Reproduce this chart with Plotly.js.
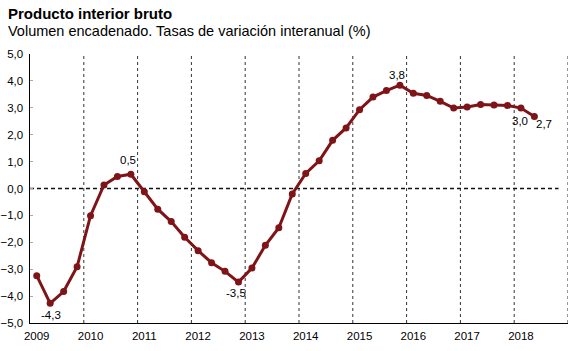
<!DOCTYPE html>
<html>
<head>
<meta charset="utf-8">
<script src="https://cdn.plot.ly/plotly-3.0.1.min.js"></script>
<style>html,body{margin:0;padding:0;background:#fff;}#chart{width:577px;height:351px;}</style>
</head>
<body>
<div id="chart"></div>
<script>
// Quarterly data 2009 Q1 – 2018 Q2
const years = [2009, 2010, 2011, 2012, 2013, 2014, 2015, 2016, 2017, 2018];
const values = [
  -3.24, -4.27, -3.83, -2.91,
  -1.01, 0.13, 0.45, 0.53,
  -0.12, -0.77, -1.23, -1.81,
  -2.31, -2.76, -3.08, -3.48,
  -2.96, -2.11, -1.46, -0.20,
  0.56, 1.03, 1.79, 2.25,
  2.93, 3.40, 3.64, 3.84,
  3.54, 3.46, 3.24, 2.99,
  3.03, 3.12, 3.10, 3.09,
  2.99, 2.68
];
const labelIdx = [1, 7, 15, 27, 36, 37];
const yTicks = [-5, -4, -3, -2, -1, 0, 1, 2, 3, 4, 5];

const xs = values.map((v, i) => i);
const font = "'Liberation Sans', Arial, sans-serif";
const red = '#7f1418';

const fmt = v => v.toFixed(1).replace('.', ',');
// label placement styles per labelled point
const labelStyle = {
  1:  {xanchor: 'center', yanchor: 'top', xshift: 1, yshift: -4},
  7:  {xanchor: 'center', yanchor: 'bottom', xshift: -3, yshift: 6},
  15: {xanchor: 'center', yanchor: 'top', xshift: -2, yshift: -3},
  27: {xanchor: 'center', yanchor: 'bottom', xshift: -3, yshift: 2},
  36: {xanchor: 'center', yanchor: 'top', xshift: -1, yshift: -5},
  37: {xanchor: 'center', yanchor: 'middle', xshift: 10, yshift: -8}
};

const annotations = labelIdx.map(i => Object.assign({
  x: xs[i], y: values[i], xref: 'x', yref: 'y', text: fmt(values[i]),
  showarrow: false, font: {family: font, size: 11.5, color: '#000'}
}, labelStyle[i]));

annotations.push({
  xref: 'paper', yref: 'paper', x: 0, y: 1, xanchor: 'left', yanchor: 'middle',
  xshift: -24, yshift: 41, showarrow: false,
  text: '<b>Producto interior bruto</b>',
  font: {family: font, size: 15, color: '#000'}
});
annotations.push({
  xref: 'paper', yref: 'paper', x: 0, y: 1, xanchor: 'left', yanchor: 'middle',
  xshift: -24, yshift: 23, showarrow: false,
  text: 'Volumen encadenado. Tasas de variación interanual (%)',
  font: {family: font, size: 14.5, color: '#000'}
});

const nSlots = years.length * 4;
const shapes = [];
for (let k = 1; k <= years.length; k++) {
  shapes.push({
    type: 'line', xref: 'x', yref: 'paper', x0: 4 * k - 0.5, x1: 4 * k - 0.5, y0: 0, y1: 1,
    line: {color: '#333', width: 1, dash: 'dot'}, layer: 'below'
  });
}
shapes.push({
  type: 'line', xref: 'x', yref: 'y', x0: -0.5, x1: nSlots - 1.2, y0: 0, y1: 0,
  line: {color: '#111', width: 1.3, dash: '4px,3px'}, layer: 'below'
});

const trace = {
  x: xs, y: values, type: 'scatter', mode: 'lines+markers',
  line: {color: red, width: 3},
  marker: {color: red, size: 7},
  hoverinfo: 'skip'
};

const layout = {
  width: 577, height: 351,
  margin: {l: 30, r: 9, t: 54, b: 28, pad: 0},
  paper_bgcolor: '#fff', plot_bgcolor: '#fff',
  separators: ',.',
  showlegend: false,
  font: {family: font, size: 11, color: '#000'},
  xaxis: {
    range: [-0.5, nSlots - 0.5], fixedrange: true,
    tickmode: 'array', tickvals: years.map((y, i) => 4 * i), ticktext: years.map(String),
    showgrid: false, zeroline: false, showline: true, linecolor: '#000', linewidth: 1.2,
    ticks: '', ticklabelstandoff: 2, tickfont: {family: font, size: 11.5, color: '#000'}
  },
  yaxis: {
    range: [-5, 5], fixedrange: true,
    tickmode: 'array', tickvals: yTicks, tickformat: '.1f',
    showgrid: false, zeroline: false, showline: true, linecolor: '#000', linewidth: 1.5,
    ticks: 'inside', ticklen: 3, tickcolor: '#aaa', ticklabelstandoff: 3,
    tickfont: {family: font, size: 11.5, color: '#000'}
  },
  shapes: shapes,
  annotations: annotations
};

Plotly.newPlot('chart', [trace], layout, {staticPlot: true, displayModeBar: false});
</script>
</body>
</html>
